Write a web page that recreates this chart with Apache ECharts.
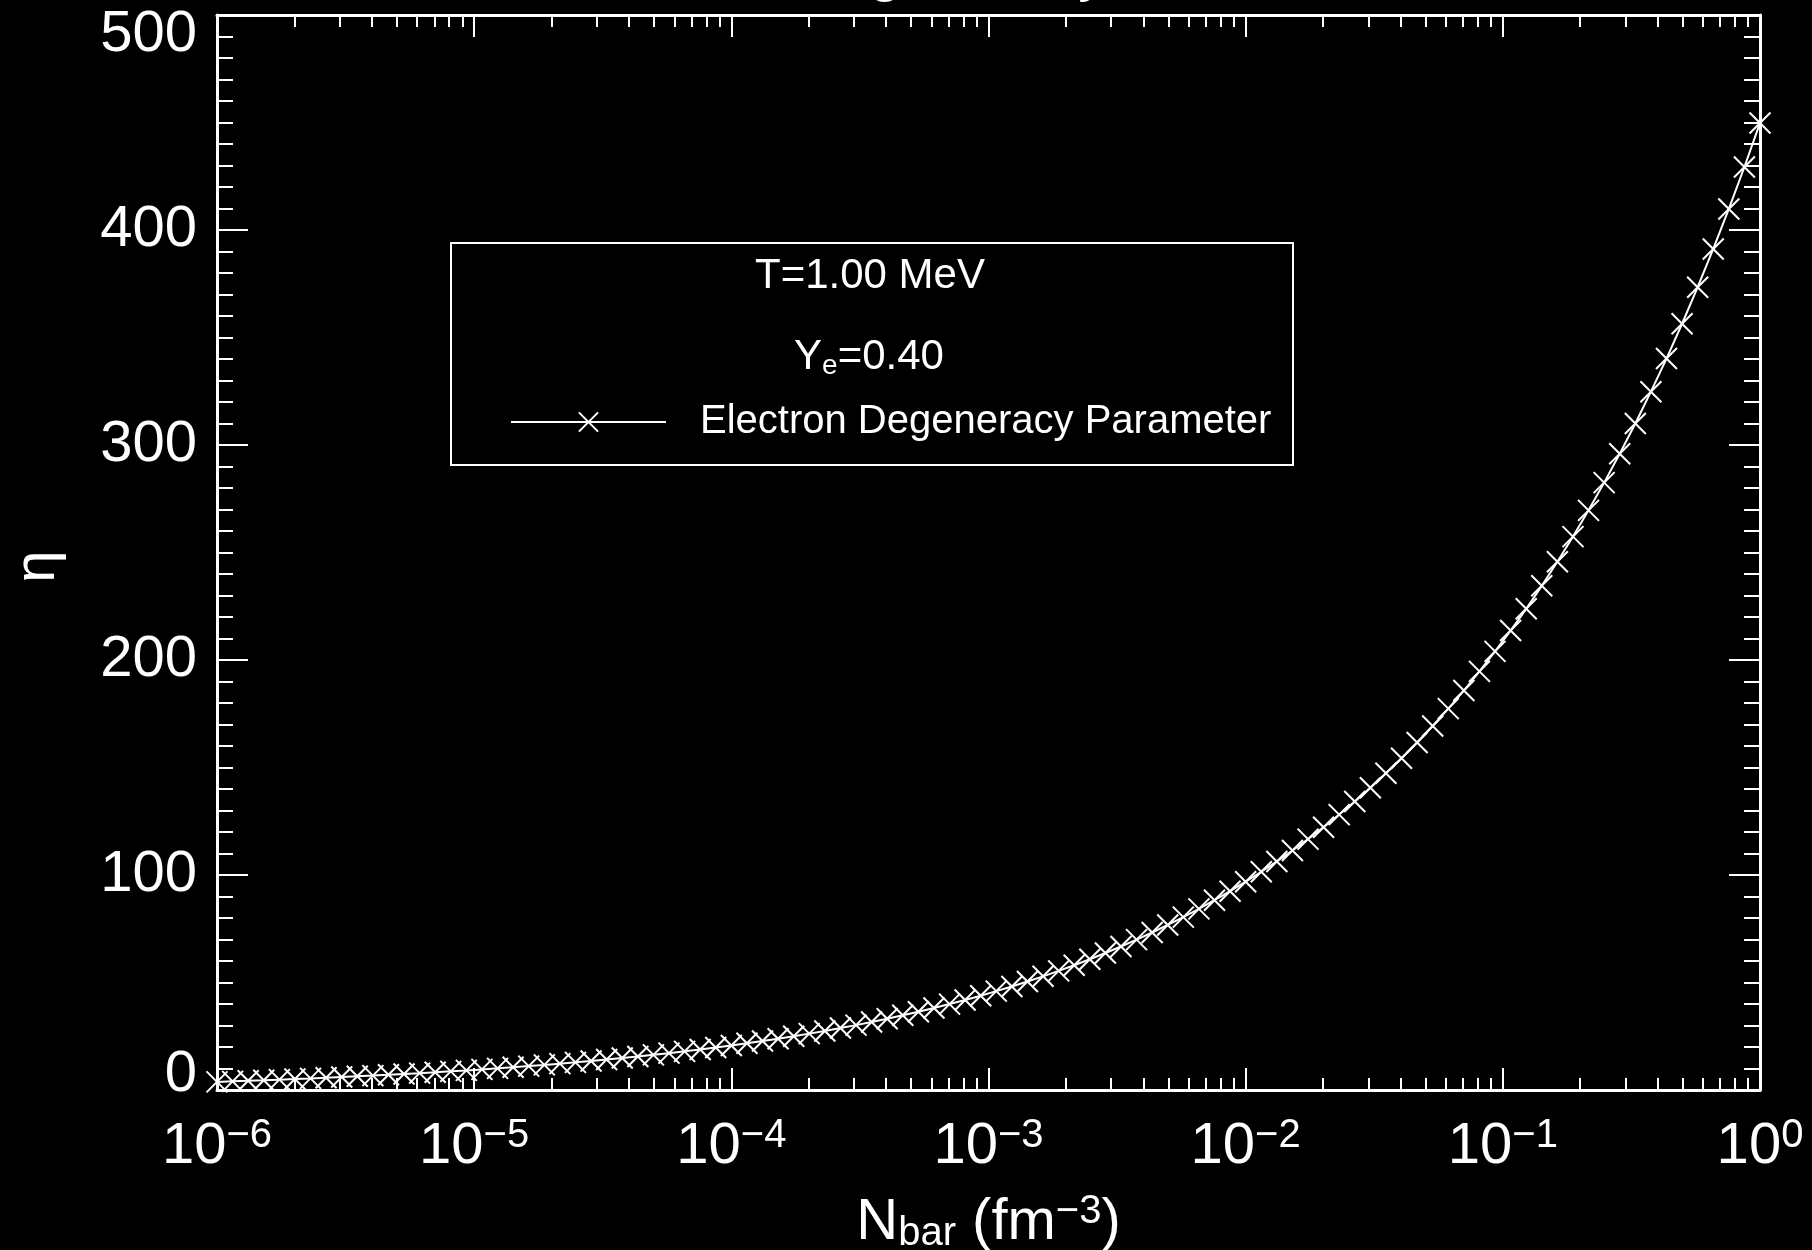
<!DOCTYPE html>
<html>
<head>
<meta charset="utf-8">
<script src="https://cdn.jsdelivr.net/npm/echarts@6/dist/echarts.min.js"></script>
<style>
html,body{margin:0;padding:0;background:#000;}
#chart{width:1812px;height:1250px;}
</style>
</head>
<body>
<div id="chart"></div>
<script>
// ---- data ----
const nbar = [
1.000e-6,1.150e-6,1.322e-6,1.520e-6,1.748e-6,2.009e-6,2.310e-6,2.656e-6,3.054e-6,3.511e-6,4.037e-6,4.642e-6,5.337e-6,6.136e-6,7.055e-6,8.111e-6,9.326e-6,
1.072e-5,1.233e-5,1.417e-5,1.630e-5,1.874e-5,2.154e-5,2.477e-5,2.848e-5,3.275e-5,3.765e-5,4.329e-5,4.977e-5,5.722e-5,6.579e-5,7.565e-5,8.697e-5,
1.000e-4,1.150e-4,1.322e-4,1.520e-4,1.748e-4,2.009e-4,2.310e-4,2.656e-4,3.054e-4,3.511e-4,4.037e-4,4.642e-4,5.337e-4,6.136e-4,7.055e-4,8.111e-4,9.326e-4,
1.072e-3,1.233e-3,1.417e-3,1.630e-3,1.874e-3,2.154e-3,2.477e-3,2.848e-3,3.275e-3,3.765e-3,4.329e-3,4.977e-3,5.722e-3,6.579e-3,7.565e-3,8.697e-3,
1.000e-2,1.150e-2,1.322e-2,1.520e-2,1.748e-2,2.009e-2,2.310e-2,2.656e-2,3.054e-2,3.511e-2,4.037e-2,4.642e-2,5.337e-2,6.136e-2,7.055e-2,8.111e-2,9.326e-2,
1.072e-1,1.233e-1,1.417e-1,1.630e-1,1.874e-1,2.154e-1,2.477e-1,2.848e-1,3.275e-1,3.765e-1,4.329e-1,4.977e-1,5.722e-1,6.579e-1,7.565e-1,8.697e-1,
1.000
];
const eta = [
3.77,4.02,4.27,4.54,4.82,5.10,5.39,5.70,6.02,6.36,6.70,7.06,7.44,7.84,8.25,8.67,9.12,
9.59,10.07,10.58,11.11,11.67,12.25,12.86,13.50,14.16,14.86,15.59,16.35,17.14,17.98,18.85,19.76,
20.72,21.72,22.77,23.87,25.02,26.22,27.48,28.80,30.18,31.63,33.14,34.73,36.40,38.14,39.96,41.87,
43.87,45.97,48.16,50.46,52.87,55.39,58.04,60.81,63.71,66.75,69.93,73.26,76.76,80.41,84.25,88.26,92.47,
96.87,101.5,106.3,111.4,116.7,122.2,128.1,134.2,140.6,147.3,154.3,161.6,169.3,177.4,185.8,194.7,
204.0,213.7,223.8,234.5,245.7,257.4,269.6,282.5,295.9,310.0,324.8,340.2,356.4,373.4,391.2,409.8,429.3,
449.8
];
const seriesName = 'Electron Degeneracy Parameter';
const decadeTicks = [1e-6, 1e-5, 1e-4, 1e-3, 1e-2, 1e-1, 1];
const minorMultipliers = [2, 3, 4, 5, 6, 7, 8, 9];
const yTicks = [0, 100, 200, 300, 400, 500];
const titleText = 'Electron Degeneracy Parameter';
const legendLine1 = 'T=1.00 MeV';
const legendLine2 = '{y|Y}{e|e}{y|=0.40}';

// ---- helpers ----
const FONT = '"Liberation Sans", Arial, sans-serif';
const WHITE = '#ffffff';
const minorTicks = [];
for (let d = 0; d < decadeTicks.length - 1; d++) {
  for (const m of minorMultipliers) minorTicks.push(+(m * decadeTicks[d]).toPrecision(3));
}
const xMin = decadeTicks[0], xMax = decadeTicks[decadeTicks.length - 1];

function xLabel(v) {
  const e = Math.round(Math.log10(v));
  return '{b|10}{s|' + (e < 0 ? '\u2212' + (-e) : String(e)) + '}';
}
function yLabel(v) {
  if (v === yTicks[0]) return '{lo|' + v + '}';
  if (v === yTicks[yTicks.length - 1]) return '{hi|' + v + '}';
  return '{n|' + v + '}';
}

function xAxisDef(position, values, len, showLine, showLabel) {
  return {
    type: 'log', logBase: 10, min: xMin, max: xMax, position: position,
    axisLine: { show: showLine, lineStyle: { color: WHITE, width: 3 } },
    axisTick: { show: true, inside: true, length: len, customValues: values,
                lineStyle: { color: WHITE, width: 2 } },
    axisLabel: showLabel ? {
      show: true, customValues: values, margin: 26, formatter: xLabel,
      rich: {
        b: { fontSize: 58, fontFamily: FONT, color: WHITE, lineHeight: 62 },
        s: { fontSize: 40, fontFamily: FONT, color: WHITE, verticalAlign: 'top', lineHeight: 40 }
      }
    } : { show: false },
    splitLine: { show: false }, minorTick: { show: false }, minorSplitLine: { show: false }
  };
}

const xAxes = [
  xAxisDef('bottom', decadeTicks, 22, true, true),
  xAxisDef('bottom', minorTicks, 12, false, false),
  xAxisDef('top', decadeTicks, 22, true, false),
  xAxisDef('top', minorTicks, 12, false, false)
];
Object.assign(xAxes[0], {
  name: '{a|N}{s|bar}{a| (fm}{p|\u22123}{a|)}',
  nameLocation: 'middle', nameGap: 102,
  nameTextStyle: {
    color: WHITE,
    rich: {
      a: { fontSize: 58, fontFamily: FONT, color: WHITE, lineHeight: 62 },
      s: { fontSize: 40, fontFamily: FONT, color: WHITE, verticalAlign: 'bottom', lineHeight: 40, padding: [12, 0, 0, 0] },
      p: { fontSize: 40, fontFamily: FONT, color: WHITE, verticalAlign: 'top', lineHeight: 40 }
    }
  }
});

function yAxisDef(position, showLabel) {
  return {
    type: 'value', min: yTicks[0], max: yTicks[yTicks.length - 1], interval: 100, position: position,
    axisLine: { show: true, lineStyle: { color: WHITE, width: 3 } },
    axisTick: { show: true, inside: true, length: 31, lineStyle: { color: WHITE, width: 2 } },
    minorTick: { show: true, splitNumber: 10, length: 16, lineStyle: { color: WHITE, width: 2 } },
    axisLabel: showLabel ? {
      show: true, margin: 20, formatter: yLabel,
      rich: {
        n: { fontSize: 58, fontFamily: FONT, color: WHITE },
        lo: { fontSize: 58, fontFamily: FONT, color: WHITE, padding: [0, 0, 30, 0] },
        hi: { fontSize: 58, fontFamily: FONT, color: WHITE, padding: [40, 0, 0, 0] }
      }
    } : { show: false },
    splitLine: { show: false }, minorSplitLine: { show: false }
  };
}
const yAxes = [yAxisDef('left', true), yAxisDef('right', false)];
Object.assign(yAxes[0], {
  name: '\u03B7', nameLocation: 'middle', nameRotate: 90, nameGap: 150,
  nameTextStyle: { color: WHITE, fontSize: 58, fontFamily: FONT, padding: [0, 28, 0, 0] }
});

const XSYM = 'path://M0,0L20,20M20,0L0,20';

const chart = echarts.init(document.getElementById('chart'), null, { renderer: 'canvas' });
chart.setOption({
  backgroundColor: '#000000',
  animation: false,
  grid: { left: 217, right: 52, top: 15, bottom: 160, containLabel: false, outerBoundsMode: 'none' },
  xAxis: xAxes,
  yAxis: yAxes,
  legend: {
    show: true, data: [seriesName], left: 510, top: 402, padding: 0,
    itemWidth: 155, itemHeight: 24,
    textStyle: { color: WHITE, fontSize: 40, fontFamily: FONT, padding: [0, 0, 0, 29] },
    inactiveColor: WHITE, selectedMode: false
  },
  series: [{
    type: 'line', name: seriesName, xAxisIndex: 0, yAxisIndex: 0,
    data: nbar.map((n, i) => [n, eta[i]]),
    symbol: XSYM, symbolSize: 21, showSymbol: true, showAllSymbol: true,
    lineStyle: { color: WHITE, width: 2 },
    itemStyle: { color: WHITE, borderColor: WHITE, borderWidth: 2 },
    emphasis: { disabled: true }, clip: true
  }],
  graphic: [
    { type: 'rect', shape: { x: 451, y: 243, width: 842, height: 222 },
      style: { fill: 'transparent', stroke: WHITE, lineWidth: 2 }, silent: true },
    { type: 'text', x: 870, y: 276,
      style: { text: legendLine1, fill: WHITE, font: '42px ' + FONT, align: 'center', verticalAlign: 'middle',
               textAlign: 'center', textVerticalAlign: 'middle' }, silent: true },
    { type: 'text', x: 869, y: 357,
      style: { text: legendLine2, fill: WHITE, align: 'center', verticalAlign: 'middle',
               textAlign: 'center', textVerticalAlign: 'middle',
               rich: {
                 y: { fontSize: 42, fontFamily: FONT, fill: WHITE, color: WHITE, lineHeight: 46 },
                 e: { fontSize: 28, fontFamily: FONT, fill: WHITE, color: WHITE, verticalAlign: 'bottom', lineHeight: 26 }
               } }, silent: true },
    { type: 'text', x: 980, y: -55,
      style: { text: titleText, fill: WHITE, font: '58px ' + FONT, align: 'center', verticalAlign: 'top',
               textAlign: 'center', textVerticalAlign: 'top' }, silent: true }
  ]
});
</script>
</body>
</html>
